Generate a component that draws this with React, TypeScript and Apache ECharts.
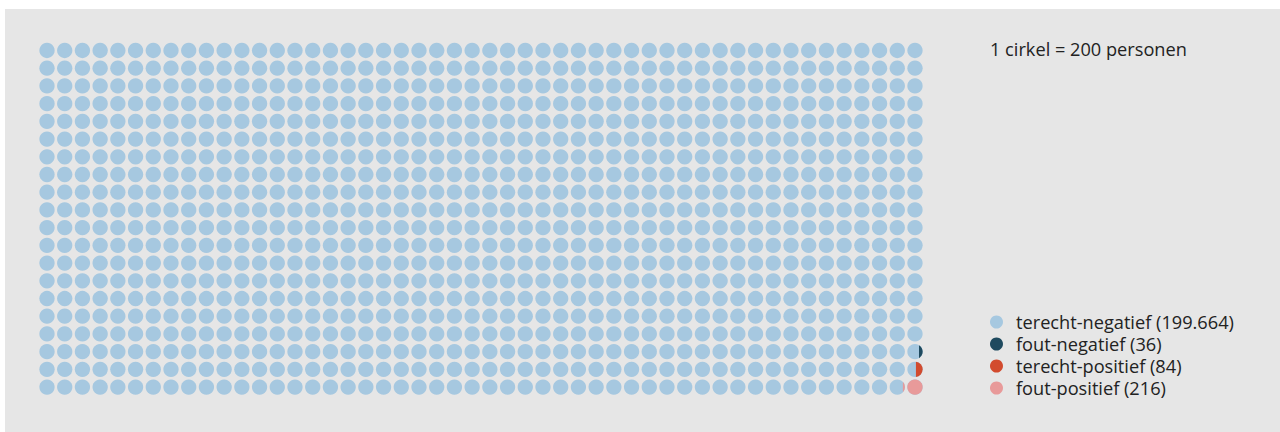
import React, { useEffect, useRef } from "react";
import * as echarts from "echarts";

const categories = ["terecht-negatief", "fout-negatief", "terecht-positief", "fout-positief"];
const counts = [199664, 36, 84, 216];
const colors = ["#a6c8e0", "#1f4a5f", "#d24b2e", "#e89a9a"];
const personsPerCircle = 200;
const columns = 50;
const rows = 20;
const titleText = "1 cirkel = 200 personen";

const FONT = "'Open Sans'";

function fmtNL(n: number): string {
  return n.toString().replace(/\B(?=(\d{3})+(?!\d))/g, ".");
}

const seriesNames = categories.map((c, i) => `${c} (${fmtNL(counts[i])})`);

// base layer: every cell
const baseCells: number[][] = [];
for (let r = 1; r <= rows; r++) {
  for (let c = 1; c <= columns; c++) baseCells.push([c, r, 1]);
}

// minority categories: each on its own row from the bottom, filled from the right
function overlayCells(catIndex: number): number[][] {
  const rowFromBottom = categories.length - 1 - catIndex;
  const row = rows - rowFromBottom;
  let remaining = counts[catIndex] / personsPerCircle;
  const out: number[][] = [];
  let col = columns;
  while (remaining > 1e-9 && col >= 1) {
    const f = Math.min(1, remaining);
    out.push([col, row, f]);
    remaining -= f;
    col--;
  }
  return out;
}

const renderItem = (params: any, api: any) => {
  const c = api.coord([api.value(0), api.value(1)]);
  const size = api.size([1, 1]);
  const r = Math.min(size[0], size[1]) * 0.432;
  const f = api.value(2);
  const color = api.visual("color");
  if (f >= 0.999) {
    return { type: "circle", shape: { cx: c[0], cy: c[1], r }, style: { fill: color } };
  }
  let lo = -r;
  let hi = r;
  for (let i = 0; i < 40; i++) {
    const d = (lo + hi) / 2;
    const a = (r * r * Math.acos(d / r) - d * Math.sqrt(r * r - d * d)) / (Math.PI * r * r);
    if (a > f) lo = d;
    else hi = d;
  }
  const d = (lo + hi) / 2;
  const h = Math.sqrt(r * r - d * d);
  const x = c[0] + d;
  const large = d < 0 ? 1 : 0;
  return {
    type: "path",
    shape: { pathData: `M${x} ${c[1] - h} A${r} ${r} 0 ${large} 1 ${x} ${c[1] + h} Z` },
    style: { fill: color },
  };
};

export default function App() {
  const ref = useRef<HTMLDivElement>(null);
  useEffect(() => {
    if (!ref.current) return;
    const chart = echarts.init(ref.current, undefined, { renderer: "svg" });
    chart.setOption({
      animation: false,
      backgroundColor: "#e6e6e6",
      title: {
        text: titleText,
        left: 985,
        top: 30.5,
        padding: 0,
        textStyle: { fontFamily: FONT, fontSize: 18.2, fontWeight: "normal", color: "#222" },
      },
      legend: {
        orient: "vertical",
        left: 985,
        top: 302,
        padding: 0,
        itemWidth: 13,
        itemHeight: 13,
        itemGap: 0,
        icon: "circle",
        selectedMode: false,
        data: seriesNames,
        textStyle: {
          fontFamily: FONT,
          fontSize: 18.2,
          color: "#222",
          lineHeight: 22,
          padding: [0, 0, 0, 8],
        },
      },
      grid: { left: 33.14, top: 32.64, width: 885.7, height: 354.3 },
      xAxis: { type: "value", min: 0.5, max: columns + 0.5, show: false },
      yAxis: { type: "value", min: 0.5, max: rows + 0.5, inverse: true, show: false },
      series: categories.map((_, i) => ({
        type: "custom",
        name: seriesNames[i],
        coordinateSystem: "cartesian2d",
        renderItem,
        encode: { x: 0, y: 1 },
        itemStyle: { color: colors[i] },
        silent: true,
        data: i === 0 ? baseCells : overlayCells(i),
      })),
    });
    return () => chart.dispose();
  }, []);
  return (
    <div
      ref={ref}
      style={{ position: "fixed", left: 5, top: 9, width: 1275, height: 423 }}
    />
  );
}
